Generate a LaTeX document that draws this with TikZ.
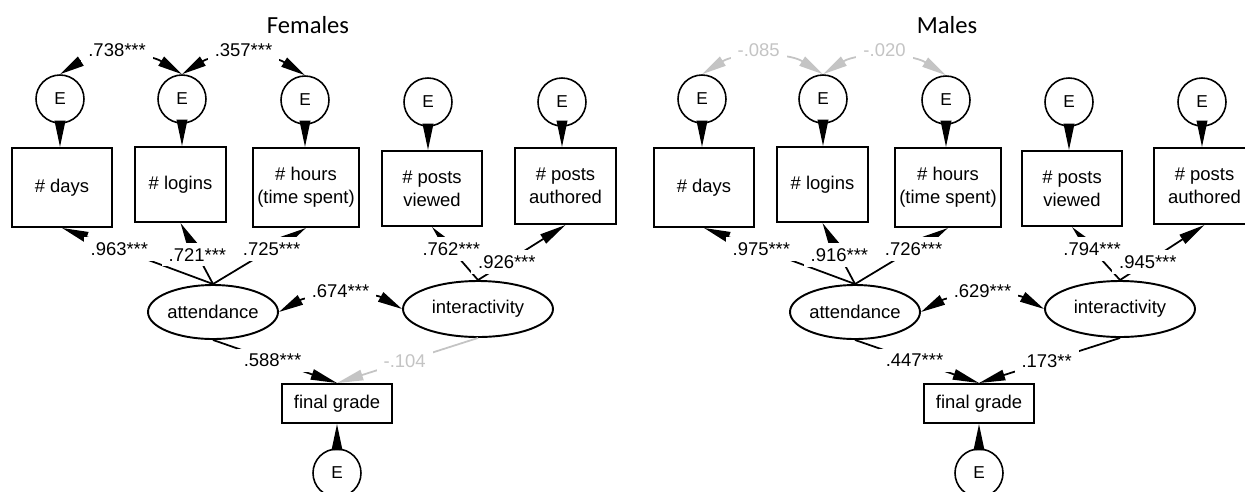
\documentclass[tikz,border=0pt]{standalone}
\usepackage{fontspec}
\setmainfont{Liberation Sans}
\newfontfamily\titlefont{Carlito}
\usetikzlibrary{arrows.meta,shapes.geometric}

% one drawing unit = one pixel of the 1245 x 491 sheet
\newcommand\unitpx{0.02cm}
\definecolor{insig}{RGB}{196,196,196}

\begin{document}
\begin{tikzpicture}[x=0.02cm, y=-0.02cm,
  errvar/.style={circle, draw, line width=0.9pt, inner sep=0pt,
    minimum size=48*\unitpx, font=\fontsize{9.8}{11}\selectfont},
  obsvar/.style={rectangle, draw, line width=1.1pt, align=center, inner sep=0pt,
    font=\fontsize{10.5}{13}\selectfont},
  latvar/.style={ellipse, draw, line width=1.1pt, inner sep=0pt,
    font=\fontsize{10.5}{12}\selectfont},
  conn/.style={line width=1pt, -{Triangle[length=15pt,width=6pt]}},
  biconn/.style={line width=1pt,
    {Triangle[length=14pt,width=6pt]}-{Triangle[length=14pt,width=6pt]}},
  weak/.style={draw=insig, text=insig},
  coef/.style={fill=white, inner xsep=4pt, inner ysep=3pt, font=\fontsize{10.5}{12}\selectfont},
  grp/.style={font=\titlefont\fontsize{14}{16}\selectfont}
]
\clip (0,0) rectangle (1245,491);
\fill[white] (0,0) rectangle (1245,491);

% ================= Females =================
\begin{scope}
\node[grp] (fT) at (308,25) {Females};

\node[errvar] (fE1) at (60,99) {E};
\node[errvar] (fE2) at (182,99) {E};
\node[errvar] (fE3) at (305,100) {E};
\node[errvar] (fE4) at (428,102) {E};
\node[errvar] (fE5) at (562,102) {E};

\node[obsvar, minimum width=100*\unitpx, minimum height=79*\unitpx] (fB1) at (62,187.5) {\# days};
\node[obsvar, minimum width=91*\unitpx, minimum height=75*\unitpx] (fB2) at (180.5,184.5) {\# logins};
\node[obsvar, minimum width=106*\unitpx, minimum height=79*\unitpx] (fB3) at (306,187.5) {\# hours\\(time spent)};
\node[obsvar, minimum width=100*\unitpx, minimum height=75*\unitpx] (fB4) at (432,188.5) {\# posts\\viewed};
\node[obsvar, minimum width=101*\unitpx, minimum height=76*\unitpx] (fB5) at (565.5,186) {\# posts\\authored};

\node[latvar, minimum width=130*\unitpx, minimum height=54*\unitpx] (fAtt) at (213,312) {attendance};
\node[latvar, minimum width=150*\unitpx, minimum height=56*\unitpx] (fInt) at (478,309) {interactivity};

\node[obsvar, minimum width=110*\unitpx, minimum height=39*\unitpx] (fFG) at (337,403.5) {final grade};
\node[errvar] (fE6) at (337,473) {E};

% residual paths
\foreach \i in {1,...,5}
  \draw[conn] (fE\i.south) -- (fE\i.south |- fB\i.north);
\draw[conn] (fE6.north) -- (fFG.south);

% loadings
\draw[conn] (fAtt.north) -- (fB1.south);
\draw[conn] (fAtt.north) -- (fB2.south);
\draw[conn] (fAtt.north) -- (fB3.south);
\draw[conn] (fInt.north) -- (fB4.south);
\draw[conn] (fInt.north) -- (fB5.south);

% covariances
\draw[biconn] (fE1.north) .. controls +(35,-22) and +(-35,-22) .. (fE2.north);
\draw[biconn] (fE2.north) .. controls +(35,-22) and +(-35,-22) .. (fE3.north);
\draw[biconn] (fAtt.east) .. controls +(30,-17) and +(-30,-17) .. (fInt.west);

% structural paths
\draw[conn] (fAtt.south) -- (fFG.north);
\draw[conn, weak] (fInt.south) -- (fFG.north);

% coefficients
\path (fAtt.north) -- node[coef, pos=.62] {.963***} (fB1.south);
\path (fAtt.north) -- node[coef, pos=.48] {.721***} (fB2.south);
\path (fAtt.north) -- node[coef, pos=.63] {.725***} (fB3.south);
\path (fInt.north) -- node[coef, pos=.58] {.762***} (fB4.south);
\path (fInt.north) -- node[coef, pos=.33] {.926***} (fB5.south);
\path (fE1.north) .. controls +(35,-22) and +(-35,-22) .. node[coef, pos=.47, yshift=4.5pt] {.738***} (fE2.north);
\path (fE2.north) .. controls +(35,-22) and +(-35,-22) .. node[coef, pos=.5, yshift=4.5pt] {.357***} (fE3.north);
\path (fAtt.east) .. controls +(30,-17) and +(-30,-17) .. node[coef, pos=.5, yshift=4pt] {.674***} (fInt.west);
\path (fAtt.south) -- node[coef, pos=.48] {.588***} (fFG.north);
\path (fInt.south) -- node[coef, pos=.52, text=insig] {-.104} (fFG.north);
\end{scope}

% ================= Males =================
\begin{scope}[shift={(642,0)}]
\node[grp] (mT) at (305,25) {Males};

\node[errvar] (mE1) at (60,99) {E};
\node[errvar] (mE2) at (181,99) {E};
\node[errvar] (mE3) at (304,100) {E};
\node[errvar] (mE4) at (427,102) {E};
\node[errvar] (mE5) at (560,102) {E};

\node[obsvar, minimum width=100*\unitpx, minimum height=79*\unitpx] (mB1) at (62,187.5) {\# days};
\node[obsvar, minimum width=91*\unitpx, minimum height=75*\unitpx] (mB2) at (180.5,184.5) {\# logins};
\node[obsvar, minimum width=106*\unitpx, minimum height=79*\unitpx] (mB3) at (306,187.5) {\# hours\\(time spent)};
\node[obsvar, minimum width=100*\unitpx, minimum height=75*\unitpx] (mB4) at (430,188.5) {\# posts\\viewed};
\node[obsvar, minimum width=101*\unitpx, minimum height=76*\unitpx] (mB5) at (562.5,186) {\# posts\\authored};

\node[latvar, minimum width=130*\unitpx, minimum height=54*\unitpx] (mAtt) at (213,312) {attendance};
\node[latvar, minimum width=150*\unitpx, minimum height=56*\unitpx] (mInt) at (478,309) {interactivity};

\node[obsvar, minimum width=110*\unitpx, minimum height=39*\unitpx] (mFG) at (337,403.5) {final grade};
\node[errvar] (mE6) at (337,473) {E};

% residual paths
\foreach \i in {1,...,5}
  \draw[conn] (mE\i.south) -- (mE\i.south |- mB\i.north);
\draw[conn] (mE6.north) -- (mFG.south);

% loadings
\draw[conn] (mAtt.north) -- (mB1.south);
\draw[conn] (mAtt.north) -- (mB2.south);
\draw[conn] (mAtt.north) -- (mB3.south);
\draw[conn] (mInt.north) -- (mB4.south);
\draw[conn] (mInt.north) -- (mB5.south);

% covariances
\draw[biconn, weak] (mE1.north) .. controls +(35,-22) and +(-35,-22) .. (mE2.north);
\draw[biconn, weak] (mE2.north) .. controls +(35,-22) and +(-35,-22) .. (mE3.north);
\draw[biconn] (mAtt.east) .. controls +(30,-17) and +(-30,-17) .. (mInt.west);

% structural paths
\draw[conn] (mAtt.south) -- (mFG.north);
\draw[conn] (mInt.south) -- (mFG.north);

% coefficients
\path (mAtt.north) -- node[coef, pos=.62] {.975***} (mB1.south);
\path (mAtt.north) -- node[coef, pos=.48] {.916***} (mB2.south);
\path (mAtt.north) -- node[coef, pos=.63] {.726***} (mB3.south);
\path (mInt.north) -- node[coef, pos=.58] {.794***} (mB4.south);
\path (mInt.north) -- node[coef, pos=.33] {.945***} (mB5.south);
\path (mE1.north) .. controls +(35,-22) and +(-35,-22) .. node[coef, pos=.47, yshift=4.5pt, text=insig] {-.085} (mE2.north);
\path (mE2.north) .. controls +(35,-22) and +(-35,-22) .. node[coef, pos=.5, yshift=4.5pt, text=insig] {-.020} (mE3.north);
\path (mAtt.east) .. controls +(30,-17) and +(-30,-17) .. node[coef, pos=.5, yshift=4pt] {.629***} (mInt.west);
\path (mAtt.south) -- node[coef, pos=.48] {.447***} (mFG.north);
\path (mInt.south) -- node[coef, pos=.52] {.173**} (mFG.north);
\end{scope}
\end{tikzpicture}
\end{document}
